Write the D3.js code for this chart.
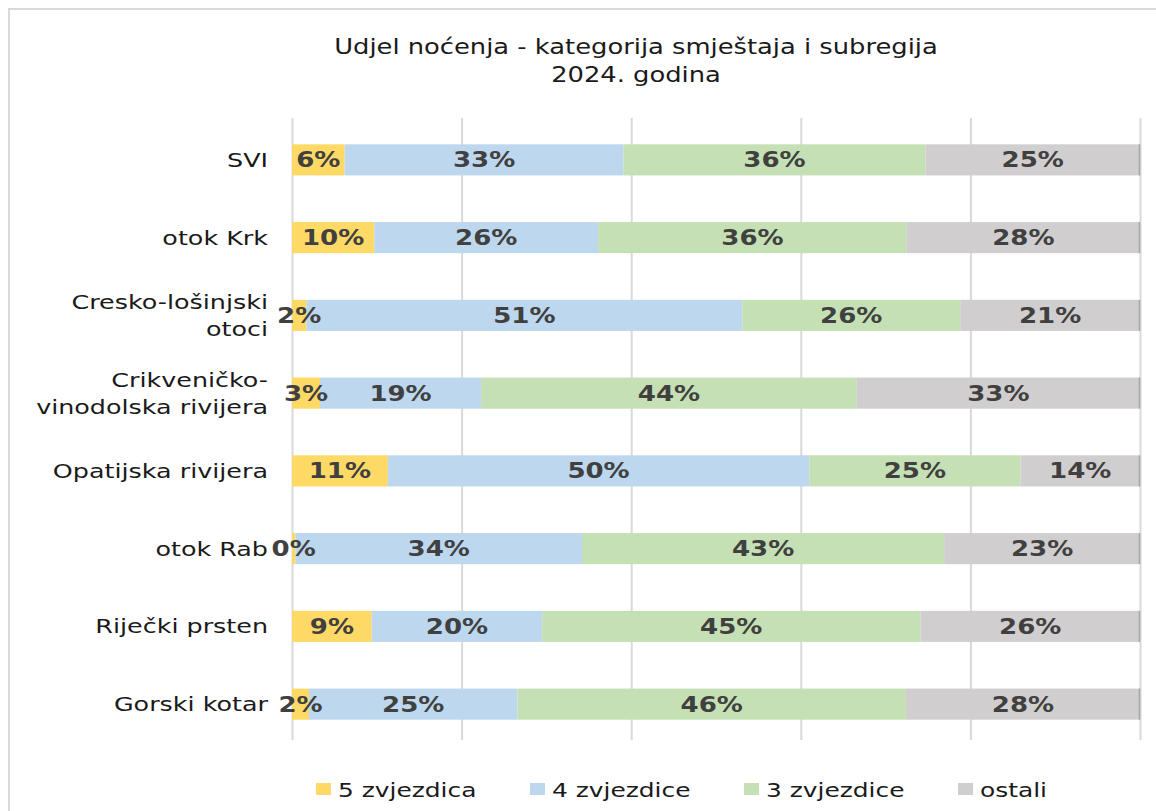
<!DOCTYPE html>
<html><head><meta charset="utf-8">
<script src="https://cdn.jsdelivr.net/npm/d3@7/dist/d3.min.js"></script>
<style>body{margin:0;background:#fff}svg{display:block}</style>
</head><body>
<script>
const categories = ["SVI", "otok Krk", "Cresko-lošinjski\notoci", "Crikveničko-\nvinodolska rivijera", "Opatijska rivijera", "otok Rab", "Riječki prsten", "Gorski kotar"];
const seriesNames = ["5 zvjezdica", "4 zvjezdice", "3 zvjezdice", "ostali"];
const s5 = [0.062, 0.097, 0.017, 0.033, 0.113, 0.004, 0.094, 0.020];
const s4 = [0.329, 0.264, 0.514, 0.190, 0.497, 0.338, 0.201, 0.246];
const s3 = [0.356, 0.364, 0.257, 0.443, 0.249, 0.427, 0.446, 0.458];
const sO = [0.253, 0.275, 0.212, 0.334, 0.141, 0.231, 0.259, 0.276];
const xTicks = [0, 0.2, 0.4, 0.6, 0.8, 1.0];
const titleLines = ["Udjel noćenja - kategorija smještaja i subregija", "2024. godina"];
const colors = ["#FFD966", "#BDD7EE", "#C5E0B4", "#D0CECE"];

const W = 1156, H = 811, SX = 1.27;
const svg = d3.select("body").append("svg").attr("width", W).attr("height", H);
svg.append("rect").attr("x", 9).attr("y", 9).attr("width", W + 10).attr("height", H + 10)
  .attr("fill", "#fff").attr("stroke", "#D9D9D9").attr("stroke-width", 2);

function stext(g, x, y, str, opts) {
  return g.append("text")
    .attr("transform", `translate(${x},${y}) scale(${SX},1)`)
    .attr("text-anchor", opts.anchor || "start")
    .attr("font-family", "DejaVu Sans, Verdana, sans-serif")
    .attr("font-size", opts.size)
    .attr("font-weight", opts.weight || "normal")
    .attr("fill", opts.fill || "#000")
    .text(str);
}

const x = d3.scaleLinear().domain([0, 1]).range([292, 1140]);
const y = d3.scaleBand().domain(categories).range([121, 743]).paddingInner(0.6).paddingOuter(0.3);

// gridlines
const gx = svg.append("g").attr("transform", "translate(0,740)")
  .call(d3.axisBottom(x).tickValues(xTicks).tickSize(-622).tickFormat(""));
gx.select(".domain").remove();
gx.selectAll(".tick line").attr("stroke", "#D9D9D9").attr("stroke-width", 2);

// stacked data
const rows = categories.map((c, i) => ({cat: c, "5 zvjezdica": s5[i], "4 zvjezdice": s4[i], "3 zvjezdice": s3[i], "ostali": sO[i]}));
const stack = d3.stack().keys(seriesNames)(rows);

const gBars = svg.append("g");
stack.forEach((layer, li) => {
  gBars.selectAll(null).data(layer).enter().append("rect")
    .attr("x", d => x(d[0])).attr("width", d => x(d[1]) - x(d[0]))
    .attr("y", d => y(d.data.cat)).attr("height", y.bandwidth())
    .attr("fill", colors[li]);
});
// bar end edge
gBars.selectAll(null).data(rows).enter().append("line")
  .attr("x1", x(1) - 0.5).attr("x2", x(1) - 0.5)
  .attr("y1", d => y(d.cat)).attr("y2", d => y(d.cat) + y.bandwidth())
  .attr("stroke", "#A6A6A6").attr("stroke-width", 1.5);

// data labels
const gLab = svg.append("g");
const fmt = d3.format(".0%");
stack.forEach((layer) => {
  layer.forEach(d => {
    const cx = (x(d[0]) + x(d[1])) / 2;
    const cy = y(d.data.cat) + y.bandwidth() / 2 + 7.5;
    stext(gLab, cx, cy, fmt(d[1] - d[0]), {anchor: "middle", size: 20.5, weight: "bold", fill: "#404040"});
  });
});

// category labels
const gCat = svg.append("g");
categories.forEach(c => {
  const lines = c.split("\n");
  const cy = y(c) + y.bandwidth() / 2;
  lines.forEach((ln, k) => {
    const yy = cy + 7 + (k - (lines.length - 1) / 2) * 27;
    stext(gCat, 268, yy, ln, {anchor: "end", size: 20, fill: "#1a1a1a"});
  });
});

// title
stext(svg, 636, 54, titleLines[0], {anchor: "middle", size: 20.3, fill: "#1a1a1a"});
stext(svg, 636, 82, titleLines[1], {anchor: "middle", size: 20.3, fill: "#1a1a1a"});

// legend
const legX = [316, 530, 744, 958];
const gLeg = svg.append("g");
seriesNames.forEach((n, i) => {
  gLeg.append("rect").attr("x", legX[i]).attr("y", 783).attr("width", 15).attr("height", 12).attr("fill", colors[i]);
  stext(gLeg, legX[i] + 22, 797, n, {size: 19.6, fill: "#1a1a1a"});
});
</script>
</body></html>
